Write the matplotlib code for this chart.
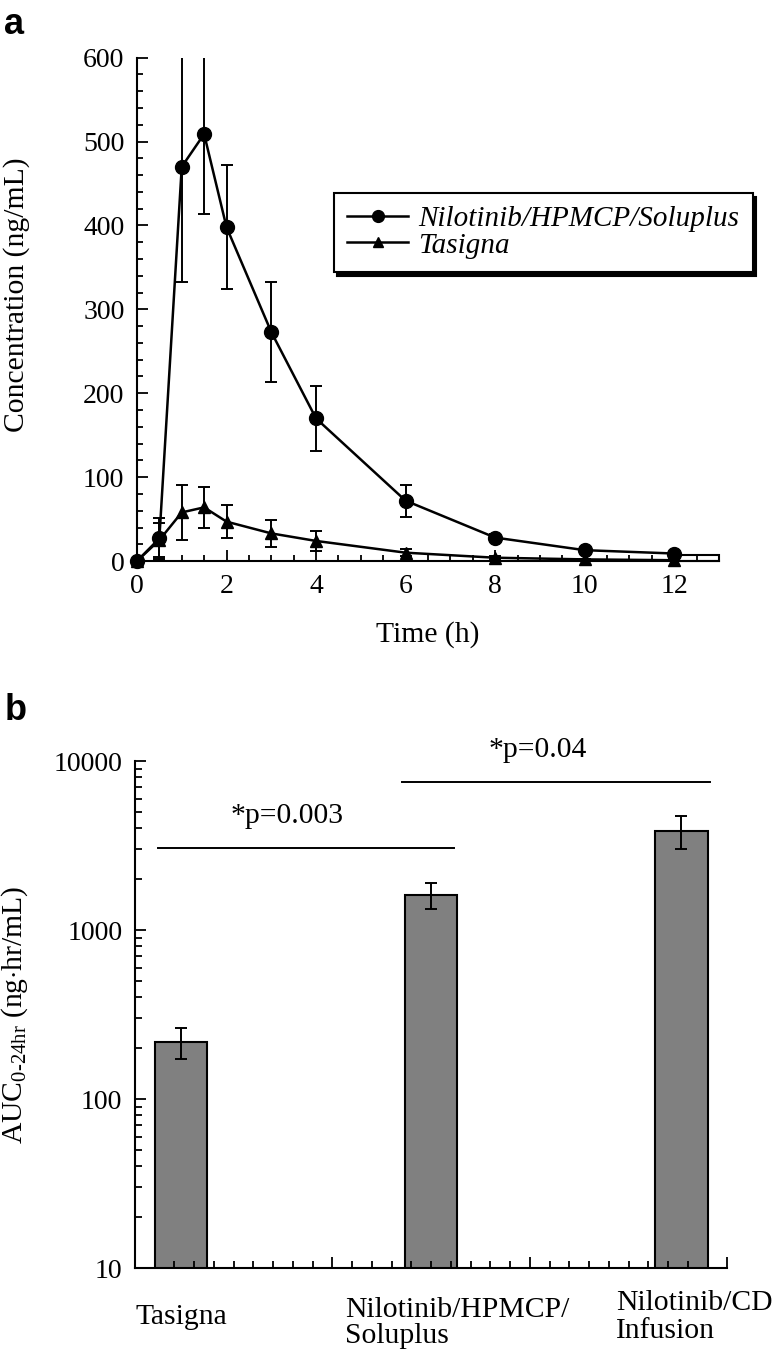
import numpy as np
import matplotlib
matplotlib.use("Agg")
import matplotlib.pyplot as plt
from matplotlib.ticker import MultipleLocator, FixedLocator, FixedFormatter, NullFormatter
from matplotlib.patches import Rectangle

plt.rcParams['font.family'] = ['Liberation Serif', 'DejaVu Serif']
plt.rcParams['mathtext.fontset'] = 'custom'
plt.rcParams['mathtext.rm'] = 'Liberation Serif'
plt.rcParams['mathtext.it'] = 'Liberation Serif:italic'

# ---------------- data: panel a ----------------
time_h = [0, 0.5, 1, 1.5, 2, 3, 4, 6, 8, 10, 12]
nilotinib_conc = [0, 27, 470, 509, 398, 273, 170, 72, 28, 13, 9]
nilotinib_err = [0, 24, 137, 95, 74, 60, 39, 19, 4, 3, 2]
tasigna_conc = [0, 25, 58, 64, 47, 33, 24, 10, 4, 2, 1]
tasigna_err = [0, 20, 33, 24, 20, 16, 12, 4, 2, 1, 1]
series_labels = ["Nilotinib/HPMCP/Soluplus", "Tasigna"]

# ---------------- data: panel b ----------------
categories = ["Tasigna", "Nilotinib/HPMCP/\nSoluplus", "Nilotinib/CD\nInfusion"]
auc_values = [218, 1615, 3870]
auc_errors = [46, 290, 870]
p_labels = ["*p=0.003", "*p=0.04"]
p_pairs = [(0, 1), (1, 2)]
p_line_heights = [3040, 7480]
p_text_heights = [4300, 10500]

FS_TICK = 20
FS = 21.3
fig = plt.figure(figsize=(7.73, 13.51), dpi=100)

# ================= panel a =================
ax1 = fig.add_axes([0.1772, 0.5847, 0.7529, 0.3726])
ax1.errorbar(time_h, nilotinib_conc, yerr=nilotinib_err, fmt='none', ecolor='black',
             elinewidth=1.4, capsize=4, capthick=1.4, zorder=2)
ax1.errorbar(time_h, tasigna_conc, yerr=tasigna_err, fmt='none', ecolor='black',
             elinewidth=1.4, capsize=4, capthick=1.4, zorder=2)
l1, = ax1.plot(time_h, nilotinib_conc, '-o', color='black', lw=1.8, ms=10, clip_on=False, zorder=3,
               label=series_labels[0])
l2, = ax1.plot(time_h, tasigna_conc, '-^', color='black', lw=1.8, ms=8, clip_on=False, zorder=3,
               label=series_labels[1])
ax1.set_xlim(0, 13)
ax1.set_ylim(0, 600)
# box at the end of the x axis (from last point to axis end), as in the original
ax1.add_patch(Rectangle((time_h[-1], 0), 13 - time_h[-1], nilotinib_conc[-1] - 2,
                        fill=False, edgecolor='black', lw=1.5, clip_on=False, zorder=1))
ax1.xaxis.set_major_locator(MultipleLocator(2))
ax1.xaxis.set_minor_locator(MultipleLocator(0.5))
ax1.yaxis.set_major_locator(MultipleLocator(100))
ax1.yaxis.set_minor_locator(MultipleLocator(20))
for s in ['top', 'right']:
    ax1.spines[s].set_visible(False)
for s in ['left', 'bottom']:
    ax1.spines[s].set_linewidth(1.5)
ax1.tick_params(which='both', direction='in', width=1.3, labelsize=FS_TICK, pad=9)
ax1.tick_params(which='major', length=8)
ax1.tick_params(which='minor', length=4.5)
ax1.set_xlabel("Time (h)", fontsize=FS, labelpad=16)
ax1.set_ylabel("Concentration (ng/mL)", fontsize=FS)
ax1.yaxis.set_label_coords((30 - 137) / 582, (561 - 295) / 503.3)
leg = ax1.legend(handles=[l1, l2], loc='upper left', bbox_to_anchor=(334 / 773, 1 - 192.7 / 1351),
                 bbox_transform=fig.transFigure, borderaxespad=0, frameon=True, fancybox=False,
                 prop={'family': 'Liberation Serif', 'style': 'italic', 'size': 21},
                 handlelength=2.1, handletextpad=0.35, labelspacing=0.0, borderpad=0.45,
                 shadow={'ox': 2.2, 'oy': -3, 'facecolor': 'black', 'edgecolor': 'black', 'alpha': 1})
leg.get_frame().set_edgecolor('black')
leg.get_frame().set_linewidth(1.5)
for h in leg.legend_handles:
    h.set_markersize(h.get_markersize() * 0.85)

fig.text(14 / 773, 1 - 25 / 1351, "a", fontsize=26, fontweight='bold', family='Liberation Sans',
         ha='center', va='center')

# ================= panel b =================
ax2 = fig.add_axes([0.1746, 0.0614, 0.7663, 0.3753])
xpos = np.arange(len(categories))
ax2.bar(xpos, auc_values, width=0.21, color='#808080', edgecolor='black', linewidth=1.5, zorder=1)
ax2.errorbar(xpos, auc_values, yerr=auc_errors, fmt='none', ecolor='black', elinewidth=1.4,
             capsize=4, capthick=1.4, zorder=3)
ax2.set_yscale('log')
ax2.set_ylim(10, 10000)
x_lo, x_hi = -0.184, 2.184
ax2.set_xlim(x_lo, x_hi)
ax2.xaxis.set_major_locator(FixedLocator(np.linspace(x_lo, x_hi, 4)))
ax2.xaxis.set_minor_locator(FixedLocator(np.linspace(x_lo, x_hi, 31)))
ax2.xaxis.set_major_formatter(NullFormatter())
ax2.yaxis.set_major_locator(FixedLocator([10, 100, 1000, 10000]))
ax2.yaxis.set_major_formatter(FixedFormatter(["10", "100", "1000", "10000"]))
ax2.yaxis.set_minor_locator(FixedLocator([m * 10 ** d for d in range(1, 4) for m in range(2, 10)]))
ax2.yaxis.set_minor_formatter(NullFormatter())
for s in ['top', 'right']:
    ax2.spines[s].set_visible(False)
for s in ['left', 'bottom']:
    ax2.spines[s].set_linewidth(1.5)
ax2.set_axisbelow(False)
ax2.tick_params(which='both', direction='in', width=1.3, labelsize=FS_TICK, pad=9)
ax2.tick_params(which='major', length=8)
ax2.tick_params(which='minor', length=5)
ax2.set_ylabel(r"AUC$_{\mathrm{0\text{-}24hr}}$ (ng$\cdot$hr/mL)", fontsize=FS)
ax2.yaxis.set_label_coords((30 - 135) / 592.3, 0.5)

# category labels under the axis (offsets in points; baseline = last line)
label_offsets = [(0, -40, 'center', 1.0), (-62, -54, 'left', 0.98), (-47, -50.4, 'left', 1.12)]
for i, (cat, (dx, dy, ha, ls)) in enumerate(zip(categories, label_offsets)):
    ax2.annotate(cat, xy=(xpos[i], 0), xycoords=('data', 'axes fraction'),
                 xytext=(dx, dy), textcoords='offset points', ha=ha, va='baseline',
                 fontsize=FS, linespacing=ls, annotation_clip=False)

# significance brackets
overhang = [0.093, 0.116]
for (a, b), yl, yt, lab, oh in zip(p_pairs, p_line_heights, p_text_heights, p_labels, overhang):
    ax2.plot([xpos[a] - oh, xpos[b] + oh], [yl, yl], color='black', lw=1.4, clip_on=False)
    ax2.text((xpos[a] + xpos[b]) / 2 - 0.075, yt, lab, ha='center', va='baseline', fontsize=FS,
             clip_on=False)

fig.text(16 / 773, 1 - 710 / 1351, "b", fontsize=26, fontweight='bold', family='Liberation Sans',
         ha='center', va='center')

fig.savefig("out.png", dpi=100)
